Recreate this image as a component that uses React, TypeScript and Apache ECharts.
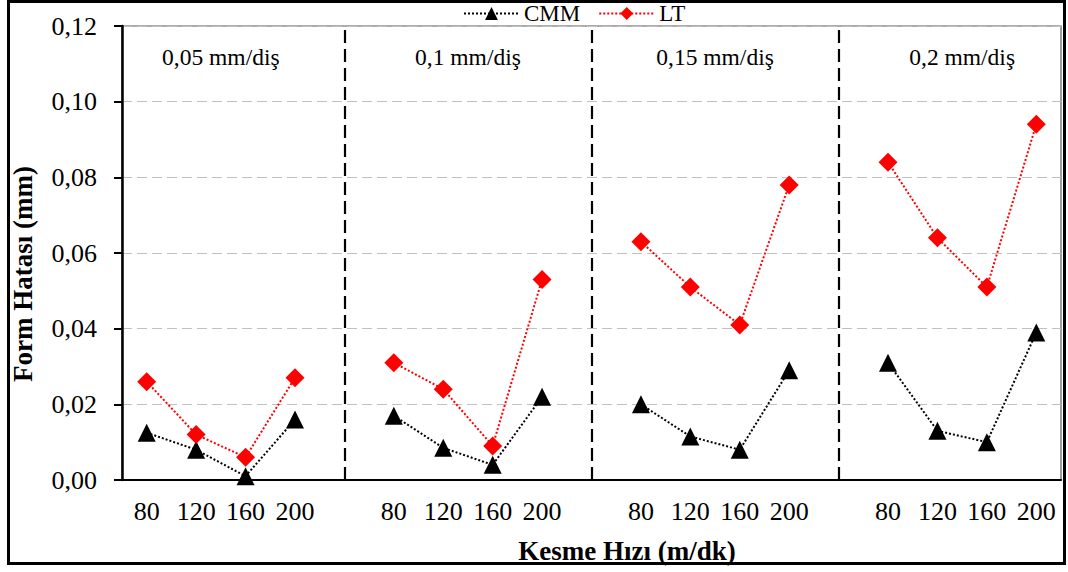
import React, { useEffect, useRef } from "react";
import * as echarts from "echarts";

const speeds = ["80", "120", "160", "200"];
const panelLabels = ["0,05 mm/diş", "0,1 mm/diş", "0,15 mm/diş", "0,2 mm/diş"];
const cmmP1 = [0.0125, 0.008, 0.001, 0.016];
const cmmP2 = [0.017, 0.0085, 0.004, 0.022];
const cmmP3 = [0.02, 0.0115, 0.008, 0.029];
const cmmP4 = [0.031, 0.013, 0.01, 0.039];
const ltP1 = [0.026, 0.012, 0.006, 0.027];
const ltP2 = [0.031, 0.024, 0.009, 0.053];
const ltP3 = [0.063, 0.051, 0.041, 0.078];
const ltP4 = [0.084, 0.064, 0.051, 0.094];
const yTicks = [0, 0.02, 0.04, 0.06, 0.08, 0.1, 0.12];

const FONT = "'Liberation Serif', 'Times New Roman', serif";

function buildCategories(): string[] {
  const out: string[] = [];
  for (let p = 0; p < 4; p++) {
    out.push(...speeds);
    if (p < 3) out.push("");
  }
  return out;
}

function buildSeries(panels: number[][]): (number | null)[] {
  const out: (number | null)[] = [];
  panels.forEach((arr, p) => {
    out.push(...arr);
    if (p < panels.length - 1) out.push(null);
  });
  return out;
}

export default function App() {
  const ref = useRef<HTMLDivElement>(null);
  useEffect(() => {
    document.body.style.margin = "0";
    if (!ref.current) return;
    const chart = echarts.init(ref.current, undefined, { renderer: "svg" });
    const categories = buildCategories();
    const cmm = buildSeries([cmmP1, cmmP2, cmmP3, cmmP4]);
    const lt = buildSeries([ltP1, ltP2, ltP3, ltP4]);
    const separators = categories
      .map((c, i) => (c === "" ? i : -1))
      .filter((i) => i >= 0);

    chart.setOption({
      animation: false,
      backgroundColor: "#ffffff",
      textStyle: { fontFamily: FONT },
      grid: {
        left: 122,
        right: 7,
        top: 26,
        bottom: 92,
        show: true,
        borderColor: "#5a5a5a",
        borderWidth: 1.2,
      },
      legend: {
        top: -3,
        left: 458,
        itemWidth: 55,
        itemHeight: 16,
        itemGap: 18,
        textStyle: { fontFamily: FONT, fontSize: 23, color: "#000" },
        data: ["CMM", "LT"],
      },
      xAxis: {
        type: "category",
        data: categories,
        boundaryGap: true,
        axisLine: { lineStyle: { color: "#000", width: 2 } },
        axisTick: {
          alignWithLabel: true,
          length: 7,
          lineStyle: { color: "#000", width: 2 },
        },
        axisLabel: {
          interval: 0,
          margin: 18,
          fontFamily: FONT,
          fontSize: 26,
          color: "#000",
        },
        splitLine: { show: false },
      },
      yAxis: {
        type: "value",
        min: 0,
        max: 0.12,
        interval: 0.02,
        axisLine: { show: true, lineStyle: { color: "#000", width: 2.5 } },
        axisTick: {
          show: true,
          length: 8,
          lineStyle: { color: "#000", width: 2 },
        },
        axisLabel: {
          margin: 25,
          fontFamily: FONT,
          fontSize: 26,
          color: "#000",
          formatter: (v: number) =>
            yTicks.some((t) => Math.abs(t - v) < 1e-9)
              ? v.toFixed(2).replace(".", ",")
              : "",
        },
        splitLine: {
          show: true,
          lineStyle: { color: "#c0c0c0", type: [10, 5], width: 1 },
        },
      },
      series: [
        {
          name: "CMM",
          type: "line",
          data: cmm,
          connectNulls: false,
          symbol: "triangle",
          symbolSize: 18,
          itemStyle: { color: "#000" },
          lineStyle: { color: "#000", width: 2, type: "dotted" },
          z: 3,
          markLine: {
            silent: true,
            symbol: "none",
            label: { show: false },
            lineStyle: { color: "#000", type: [13, 6], width: 2.2 },
            data: separators.map((i) => ({ xAxis: i })),
          },
        },
        {
          name: "LT",
          type: "line",
          data: lt,
          connectNulls: false,
          symbol: "diamond",
          symbolSize: 19,
          itemStyle: { color: "#ff0000" },
          lineStyle: { color: "#ff0000", width: 2, type: "dotted" },
          z: 4,
        },
      ],
    });

    const px = (i: number) =>
      chart.convertToPixel({ xAxisIndex: 0 }, i) as unknown as number;
    const panelTexts = panelLabels.map((label, p) => {
      const first = p * 5;
      const last = first + 3;
      const cx = (px(first) + px(last)) / 2;
      return {
        type: "text",
        x: cx,
        y: 57,
        style: {
          text: label,
          fontFamily: FONT,
          fontSize: 23.5,
          fill: "#000",
          align: "center",
          verticalAlign: "middle",
        },
      };
    });

    chart.setOption({
      graphic: [
        {
          type: "rect",
          shape: { x: 8.5, y: 1.5, width: 1056, height: 562 },
          style: { fill: "none", stroke: "#000", lineWidth: 3 },
          silent: true,
        },
        ...panelTexts,
        {
          type: "text",
          x: 627,
          y: 551,
          style: {
            text: "Kesme Hızı (m/dk)",
            fontFamily: FONT,
            fontSize: 27,
            fontWeight: "bold",
            fill: "#000",
            align: "center",
            verticalAlign: "middle",
          },
        },
        {
          type: "text",
          x: 23,
          y: 274,
          rotation: Math.PI / 2,
          style: {
            text: "Form Hatası (mm)",
            fontFamily: FONT,
            fontSize: 27,
            fontWeight: "bold",
            fill: "#000",
            align: "center",
            verticalAlign: "middle",
          },
        },
      ],
    });

    return () => chart.dispose();
  }, []);
  return <div ref={ref} style={{ width: 1068, height: 572 }} />;
}
